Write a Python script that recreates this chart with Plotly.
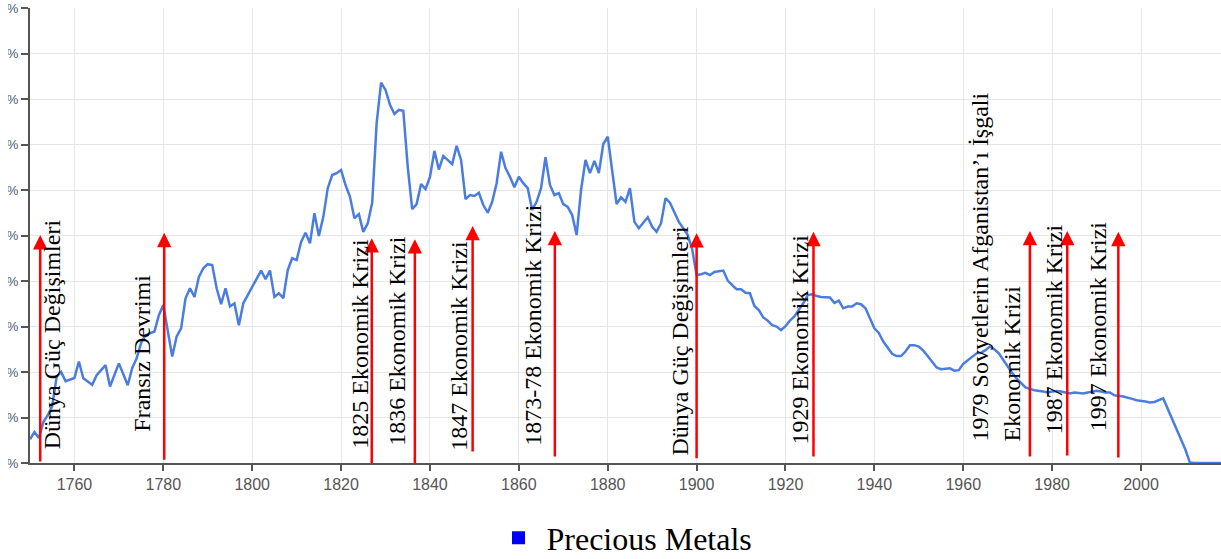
import plotly.graph_objects as go

# ---------------- data ----------------
years = [1750, 1751, 1752, 1753, 1754, 1755, 1756, 1757, 1758, 1760, 1761, 1762, 1764, 1765, 1767, 1768,
         1770, 1772, 1773, 1774, 1775, 1776, 1778, 1779, 1780, 1782, 1783, 1784, 1785, 1786, 1787, 1788,
         1789, 1790, 1791, 1792, 1793, 1794, 1795, 1796, 1797, 1798, 1799, 1800, 1802, 1803, 1804, 1805,
         1806, 1807, 1808, 1809, 1810, 1811, 1812, 1813, 1814, 1815, 1816, 1817, 1818, 1819, 1820, 1821,
         1822, 1823, 1824, 1825, 1826, 1827, 1828, 1829, 1830, 1831, 1832, 1833, 1834, 1835, 1836, 1837,
         1838, 1839, 1840, 1841, 1842, 1843, 1844, 1845, 1846, 1847, 1848, 1849, 1850, 1851, 1852, 1853,
         1854, 1855, 1856, 1857, 1858, 1859, 1860, 1861, 1862, 1863, 1864, 1865, 1866, 1867, 1868, 1869,
         1870, 1871, 1872, 1873, 1874, 1875, 1876, 1877, 1878, 1879, 1880, 1881, 1882, 1883, 1884, 1885,
         1886, 1887, 1888, 1889, 1890, 1891, 1892, 1893, 1894, 1895, 1896, 1897, 1898, 1899, 1900, 1901,
         1902, 1903, 1904, 1906, 1907, 1908, 1909, 1910, 1911, 1912, 1913, 1914, 1915, 1916, 1917, 1918,
         1919, 1920, 1921, 1922, 1923, 1924, 1925, 1926, 1927, 1928, 1930, 1931, 1932, 1933, 1934, 1935,
         1936, 1937, 1938, 1939, 1940, 1941, 1942, 1944, 1945, 1946, 1947, 1948, 1949, 1950, 1951, 1952,
         1953, 1954, 1955, 1957, 1958, 1959, 1960, 1961, 1962, 1963, 1964, 1965, 1966, 1967, 1968, 1969,
         1970, 1971, 1972, 1973, 1974, 1975, 1976, 1978, 1979, 1980, 1981, 1982, 1983, 1984, 1985, 1987,
         1988, 1989, 1990, 1991, 1992, 1993, 1994, 1996, 1997, 1998, 1999, 2000, 2001, 2002, 2003, 2005,
         2006, 2007, 2008, 2009, 2010, 2011, 2012, 2014, 2016, 2018]

precious_metals = [0.52, 0.68, 0.55, 0.90, 1.05, 1.25, 1.90, 2.00, 1.80, 1.87, 2.23, 1.86, 1.72, 1.93, 2.15, 1.68,
                   2.19, 1.71, 2.09, 2.30, 2.64, 2.81, 2.89, 3.25, 3.47, 2.34, 2.78, 2.96, 3.62, 3.84, 3.65, 4.09,
                   4.28, 4.37, 4.35, 3.84, 3.49, 3.84, 3.44, 3.51, 3.03, 3.51, 3.69, 3.86, 4.23, 4.04, 4.23, 3.65,
                   3.73, 3.62, 4.24, 4.50, 4.46, 4.86, 5.06, 4.83, 5.49, 4.99, 5.41, 6.04, 6.33, 6.37, 6.44, 6.11,
                   5.85, 5.38, 5.47, 5.08, 5.27, 5.72, 7.47, 8.36, 8.20, 7.87, 7.67, 7.76, 7.74, 6.51, 5.58, 5.69,
                   6.13, 6.02, 6.29, 6.86, 6.45, 6.75, 6.66, 6.57, 6.97, 6.66, 5.80, 5.89, 5.87, 5.94, 5.67, 5.50,
                   5.74, 6.15, 6.84, 6.48, 6.29, 6.06, 6.29, 6.15, 6.04, 5.56, 5.74, 6.04, 6.72, 6.11, 5.89, 5.93,
                   5.69, 5.63, 5.45, 5.01, 6.00, 6.66, 6.37, 6.64, 6.37, 7.01, 7.17, 6.44, 5.69, 5.84, 5.74, 6.04,
                   5.30, 5.16, 5.28, 5.40, 5.19, 5.08, 5.27, 5.82, 5.72, 5.49, 5.30, 5.16, 5.01, 4.70, 4.13, 4.15,
                   4.18, 4.13, 4.20, 4.23, 4.01, 3.91, 3.82, 3.82, 3.74, 3.73, 3.45, 3.36, 3.20, 3.13, 3.03, 3.00,
                   2.92, 3.01, 3.13, 3.22, 3.36, 3.51, 3.69, 3.71, 3.67, 3.65, 3.64, 3.52, 3.57, 3.40, 3.44, 3.44,
                   3.51, 3.49, 3.40, 3.18, 2.96, 2.86, 2.67, 2.40, 2.35, 2.35, 2.45, 2.59, 2.59, 2.56, 2.47, 2.35,
                   2.23, 2.10, 2.06, 2.08, 2.03, 2.04, 2.18, 2.26, 2.34, 2.41, 2.42, 2.48, 2.56, 2.50, 2.41, 2.26,
                   2.12, 1.98, 1.86, 1.75, 1.66, 1.63, 1.60, 1.57, 1.55, 1.57, 1.58, 1.57, 1.55, 1.53, 1.55, 1.53,
                   1.55, 1.57, 1.59, 1.57, 1.55, 1.55, 1.49, 1.46, 1.44, 1.41, 1.38, 1.37, 1.35, 1.33, 1.34, 1.42,
                   1.20, 0.98, 0.76, 0.54, 0.29, 0.01, 0.0, 0.0, 0.0, 0.0]

event_labels = ["Dünya Güç Değişimleri", "Fransız Devrimi", "1825 Ekonomik Krizi", "1836 Ekonomik Krizi",
                "1847 Ekonomik Krizi", "1873-78 Ekonomik Krizi", "Dünya Güç Değişimleri",
                "1929 Ekonomik Krizi", "1979 Sovyetlerin Afganistan’ı İşgali<br>Ekonomik Krizi",
                "1987 Ekonomik Krizi", "1997 Ekonomik Krizi"]
event_x = [1752.3, 1780.2, 1826.9, 1836.6, 1849.6, 1868.1, 1900.0, 1926.3, 1975.0, 1983.4, 1994.9]
arrow_top = [5.01, 5.06, 4.94, 4.92, 5.21, 5.10, 5.05, 5.08, 5.10, 5.10, 5.08]
arrow_base = [0.0, 0.04, -0.04, -0.04, 0.22, 0.11, 0.07, 0.11, 0.11, 0.13, 0.09]

y_ticks = [0, 1, 2, 3, 4, 5, 6, 7, 8, 9, 10]
y_tick_text = [f"{v}%" for v in y_ticks]
x_ticks = [1760, 1780, 1800, 1820, 1840, 1860, 1880, 1900, 1920, 1940, 1960, 1980, 2000]

series_name = "Precious Metals"

# ---------------- layout helpers (pixel offsets of labels) ----------------
label_xshift = [12, -23, -12, -18, -14, -22, -17, -13, -34, -13, -20]
label_yshift = [12, 29, 12, 15, 10, 15, 5, 17, 20, 27, 30]

SERIF = "Liberation Serif, Times New Roman, serif"
SANS = "Liberation Sans, Arial, sans-serif"

W, H = 1221, 559
ML, MR, MT, MB = 30, 0, 8, 96

fig = go.Figure()
fig.add_trace(go.Scatter(x=years, y=precious_metals, mode="lines",
                         line=dict(color="#4a7ddf", width=2.5), showlegend=False,
                         hoverinfo="skip"))
fig.add_trace(go.Scatter(x=[None], y=[None], mode="markers", name="\u00a0" + series_name,
                         marker=dict(symbol="square", color="#0000ff", size=13)))

annotations = []
for i, lab in enumerate(event_labels):
    annotations.append(dict(x=event_x[i], y=arrow_top[i], xref="x", yref="y",
                            ax=event_x[i], ay=arrow_base[i], axref="x", ayref="y",
                            text="", showarrow=True, arrowhead=2, arrowsize=1.15,
                            arrowwidth=2.5, arrowcolor="#ff0000", standoff=0))
    annotations.append(dict(x=event_x[i], y=0, xref="x", yref="y", text=lab,
                            showarrow=False, textangle=-90, align="left",
                            xanchor="center", yanchor="bottom",
                            xshift=label_xshift[i], yshift=label_yshift[i],
                            font=dict(family=SERIF, size=24, color="#000000")))

# white strip at the far left edge: the reference clips the left part of the y tick labels
plot_w = W - ML - MR
fig.add_shape(type="rect", xref="paper", yref="paper",
              x0=-ML / plot_w, x1=-(ML - 8) / plot_w, y0=-0.06, y1=1.03,
              fillcolor="white", line=dict(width=0), layer="above")

fig.update_layout(
    width=W, height=H,
    margin=dict(l=ML, r=MR, t=MT, b=MB, autoexpand=False),
    paper_bgcolor="white", plot_bgcolor="white",
    annotations=annotations,
    showlegend=True,
    legend=dict(orientation="h", xref="paper", x=0.5021, xanchor="center",
                yref="container", y=0.0376, yanchor="middle",
                font=dict(family=SERIF, size=32, color="#000000"), bgcolor="rgba(0,0,0,0)"),
    xaxis=dict(range=[1750, 2018], tickvals=x_ticks, showgrid=True, gridcolor="#e6e6e6",
               gridwidth=1, showline=True, linecolor="#555555", linewidth=2,
               ticks="outside", ticklen=6, tickwidth=2, tickcolor="#555555",
               tickfont=dict(family=SANS, size=16, color="#555555"),
               zeroline=False, automargin=False, layer="below traces"),
    yaxis=dict(range=[0, 10], tickvals=y_ticks, ticktext=y_tick_text, showgrid=True,
               gridcolor="#e6e6e6", gridwidth=1, showline=True, linecolor="#555555",
               linewidth=2, ticks="outside", ticklen=7, tickwidth=2, tickcolor="#555555",
               tickfont=dict(family=SANS, size=13, color="#4a5a70"),
               zeroline=False, automargin=False),
)

fig.write_html("out.html", config={"displayModeBar": False},
               post_script="document.body.style.margin='0';document.body.style.overflow='hidden';")
